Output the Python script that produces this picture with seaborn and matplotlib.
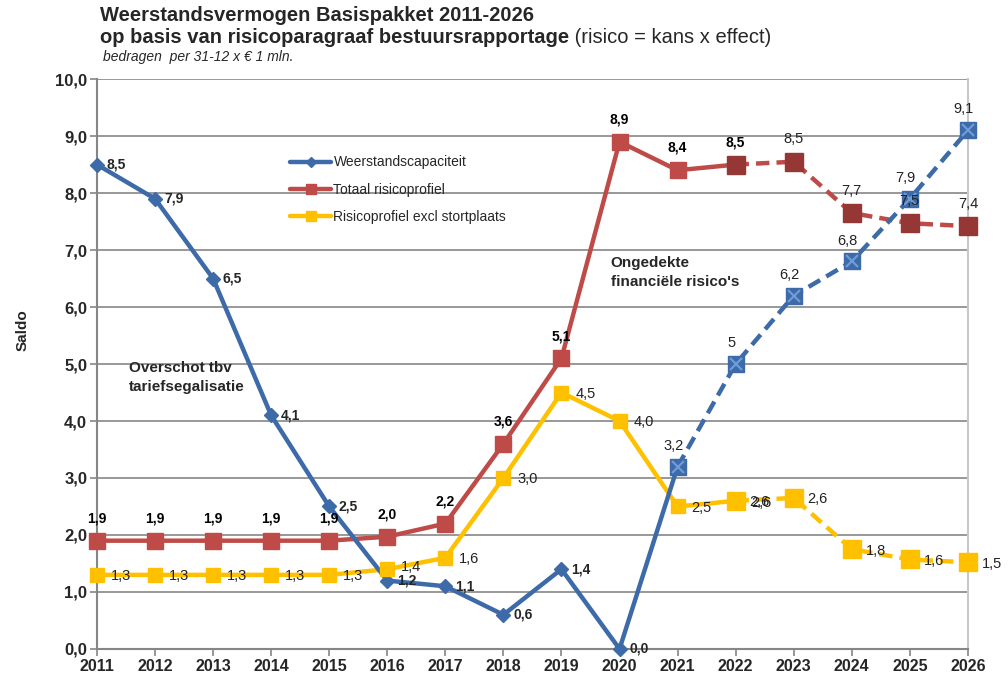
import pandas as pd
import matplotlib
matplotlib.use('Agg')
import matplotlib.pyplot as plt
import seaborn as sns

# data
years = list(range(2011, 2027))
capaciteit = [8.5, 7.9, 6.5, 4.1, 2.5, 1.2, 1.1, 0.6, 1.4, 0.0, 3.2, 5.0, 6.2, 6.8, 7.9, 9.1]
cap_labels = ['8,5', '7,9', '6,5', '4,1', '2,5', '1,2', '1,1', '0,6', '1,4', '0,0',
              '3,2', '5', '6,2', '6,8', '7,9', '9,1']
totaal = [1.9, 1.9, 1.9, 1.9, 1.9, 1.97, 2.2, 3.6, 5.1, 8.9, 8.4, 8.5, 8.55, 7.65, 7.47, 7.42]
tot_labels = ['1,9', '1,9', '1,9', '1,9', '1,9', '2,0', '2,2', '3,6', '5,1', '8,9',
              '8,4', '8,5', '8,5', '7,7', '7,5', '7,4']
excl = [1.3, 1.3, 1.3, 1.3, 1.3, 1.4, 1.6, 3.0, 4.5, 4.0, 2.5, 2.6, 2.65, 1.75, 1.57, 1.52]
excl_labels = ['1,3', '1,3', '1,3', '1,3', '1,3', '1,4', '1,6', '3,0', '4,5', '4,0',
               '2,5', '2,6', '2,6', '1,8', '1,6', '1,5']

# last year of the solid (realised) part of each series
cap_split = 2021
risk_split = 2022

df = pd.DataFrame({'jaar': years, 'cap': capaciteit, 'tot': totaal, 'excl': excl})

BLUE = '#3D6AA8'
BLUE_X = '#6F9BD8'
RED = '#BE4B48'
RED_DARK = '#953735'
YELLOW = '#FFC000'

sns.set_style('white')
plt.rcParams['font.family'] = ['Liberation Sans', 'DejaVu Sans']

fig = plt.figure(figsize=(10.08, 6.76), dpi=100)
ax = fig.add_axes([0.0962, 0.040, 0.8640, 0.843])

sol_c = df[df['jaar'] <= cap_split]
das_c = df[df['jaar'] >= cap_split]
sol_r = df[df['jaar'] <= risk_split]
das_r = df[df['jaar'] >= risk_split]

# Weerstandscapaciteit
sns.lineplot(data=sol_c, x='jaar', y='cap', ax=ax, color=BLUE, lw=3.2, zorder=4)
sns.lineplot(data=das_c, x='jaar', y='cap', ax=ax, color=BLUE, lw=3.2,
             linestyle=(0, (3, 1.6)), zorder=4)
ax.plot(sol_c['jaar'][:-1], sol_c['cap'][:-1], 'D', color=BLUE, ms=7, zorder=5, clip_on=False)
ax.plot(das_c['jaar'], das_c['cap'], 's', color=BLUE, ms=11, zorder=5, clip_on=False)
ax.plot(das_c['jaar'], das_c['cap'], 'x', color=BLUE_X, ms=9, mew=1.6, zorder=6, clip_on=False)

# Totaal risicoprofiel
sns.lineplot(data=sol_r, x='jaar', y='tot', ax=ax, color=RED, lw=3.2, zorder=3)
sns.lineplot(data=das_r, x='jaar', y='tot', ax=ax, color=RED, lw=3.2,
             linestyle=(0, (3, 1.6)), zorder=3)
ax.plot(sol_r['jaar'][:-1], sol_r['tot'][:-1], 's', color=RED, ms=12, zorder=5, clip_on=False)
ax.plot(das_r['jaar'], das_r['tot'], 's', color=RED_DARK, ms=13, zorder=5, clip_on=False)

# Risicoprofiel excl stortplaats
sns.lineplot(data=sol_r, x='jaar', y='excl', ax=ax, color=YELLOW, lw=3.2, zorder=3)
sns.lineplot(data=das_r, x='jaar', y='excl', ax=ax, color=YELLOW, lw=3.2,
             linestyle=(0, (3, 1.6)), zorder=3)
ax.plot(sol_r['jaar'][:-1], sol_r['excl'][:-1], 's', color=YELLOW, ms=10, zorder=5, clip_on=False)
ax.plot(das_r['jaar'], das_r['excl'], 's', color=YELLOW, ms=13, zorder=5, clip_on=False)

# data labels
for yr, v, lab in zip(years, capaciteit, cap_labels):
    if yr < cap_split:
        ax.annotate(lab, (yr, v), xytext=(7, 0), textcoords='offset points',
                    ha='left', va='center', fontsize=10, fontweight='bold', zorder=7)
    else:
        ax.annotate(lab, (yr, v), xytext=(-3, 10), textcoords='offset points',
                    ha='center', va='bottom', fontsize=10.5, color='#222222', zorder=7)
for yr, v, lab in zip(years, totaal, tot_labels):
    bold = yr <= risk_split
    ax.annotate(lab, (yr, v), xytext=(0, 11), textcoords='offset points',
                ha='center', va='bottom', fontsize=10 if bold else 10.5,
                fontweight='bold' if bold else 'normal', color='black' if bold else '#222222',
                zorder=7)
for yr, v, lab in zip(years, excl, excl_labels):
    dy = 1.5 if yr == 2016 else -1
    ax.annotate(lab, (yr, v), xytext=(10, dy), textcoords='offset points',
                ha='left', va='center', fontsize=10.5, color='#222222', zorder=7,
                annotation_clip=False)
# doubled label where the solid and dashed parts meet
ax.annotate('2,6', (risk_split, excl[years.index(risk_split)]), xytext=(11, -1.5),
            textcoords='offset points', ha='left', va='center', fontsize=10.5,
            color='#222222', zorder=7)

# text in the plot
ax.text(2011.55, 5.05, 'Overschot tbv\ntariefsegalisatie', ha='left', va='top',
        fontsize=11, fontweight='bold', linespacing=1.45)
ax.text(2019.85, 6.9, "Ongedekte\nfinanciële risico's", ha='left', va='top',
        fontsize=11, fontweight='bold', linespacing=1.45)

# axes
ax.set_xlim(2011, 2026)
ax.set_ylim(0, 10)
ax.set_xticks(years)
ax.set_xticklabels([str(y) for y in years], fontsize=11.5, fontweight='bold')
ax.set_yticks(range(0, 11))
ax.set_yticklabels([f'{v:.1f}'.replace('.', ',') for v in range(0, 11)],
                   fontsize=12, fontweight='bold')
ax.set_xlabel('')
ax.set_ylabel('Saldo', fontsize=11, fontweight='bold')
ax.yaxis.set_label_coords(-0.077, 0.56)
ax.yaxis.grid(True, color='#868686', lw=1.2)
ax.xaxis.grid(False)
ax.spines['top'].set_visible(False)
for s in ['left', 'bottom']:
    ax.spines[s].set_color('#868686')
    ax.spines[s].set_linewidth(1.5)
ax.spines['right'].set_color('#C8C8C8')
ax.spines['right'].set_linewidth(1.5)
ax.tick_params(axis='both', direction='out', length=5, width=1.2, color='#868686',
               left=True, bottom=True, pad=2)

# legend
handles = [
    plt.Line2D([], [], color=BLUE, lw=3.2, marker='D', ms=5),
    plt.Line2D([], [], color=RED, lw=3.2, marker='s', ms=7),
    plt.Line2D([], [], color=YELLOW, lw=3.2, marker='s', ms=7),
]
ax.legend(handles, ['Weerstandscapaciteit', 'Totaal risicoprofiel', 'Risicoprofiel excl stortplaats'],
          loc='upper left', bbox_to_anchor=(0.207, 0.888), frameon=False, fontsize=10,
          handlelength=3.0, handletextpad=0.15, labelspacing=0.95)

# titles
fig.text(0.099, 0.977, 'Weerstandsvermogen Basispakket 2011-2026', ha='left', va='center',
         fontsize=14.5, fontweight='bold')
t2 = fig.text(0.099, 0.944, 'op basis van risicoparagraaf bestuursrapportage', ha='left',
              va='center', fontsize=14.5, fontweight='bold')
ax.annotate(' (risico = kans x effect)', xy=(1, 0), xycoords=t2, ha='left', va='bottom',
            fontsize=14.5, annotation_clip=False)
fig.text(0.102, 0.915, 'bedragen  per 31-12 x € 1 mln.', ha='left', va='center',
         fontsize=10, fontstyle='italic')

fig.savefig('out.png', dpi=100)
